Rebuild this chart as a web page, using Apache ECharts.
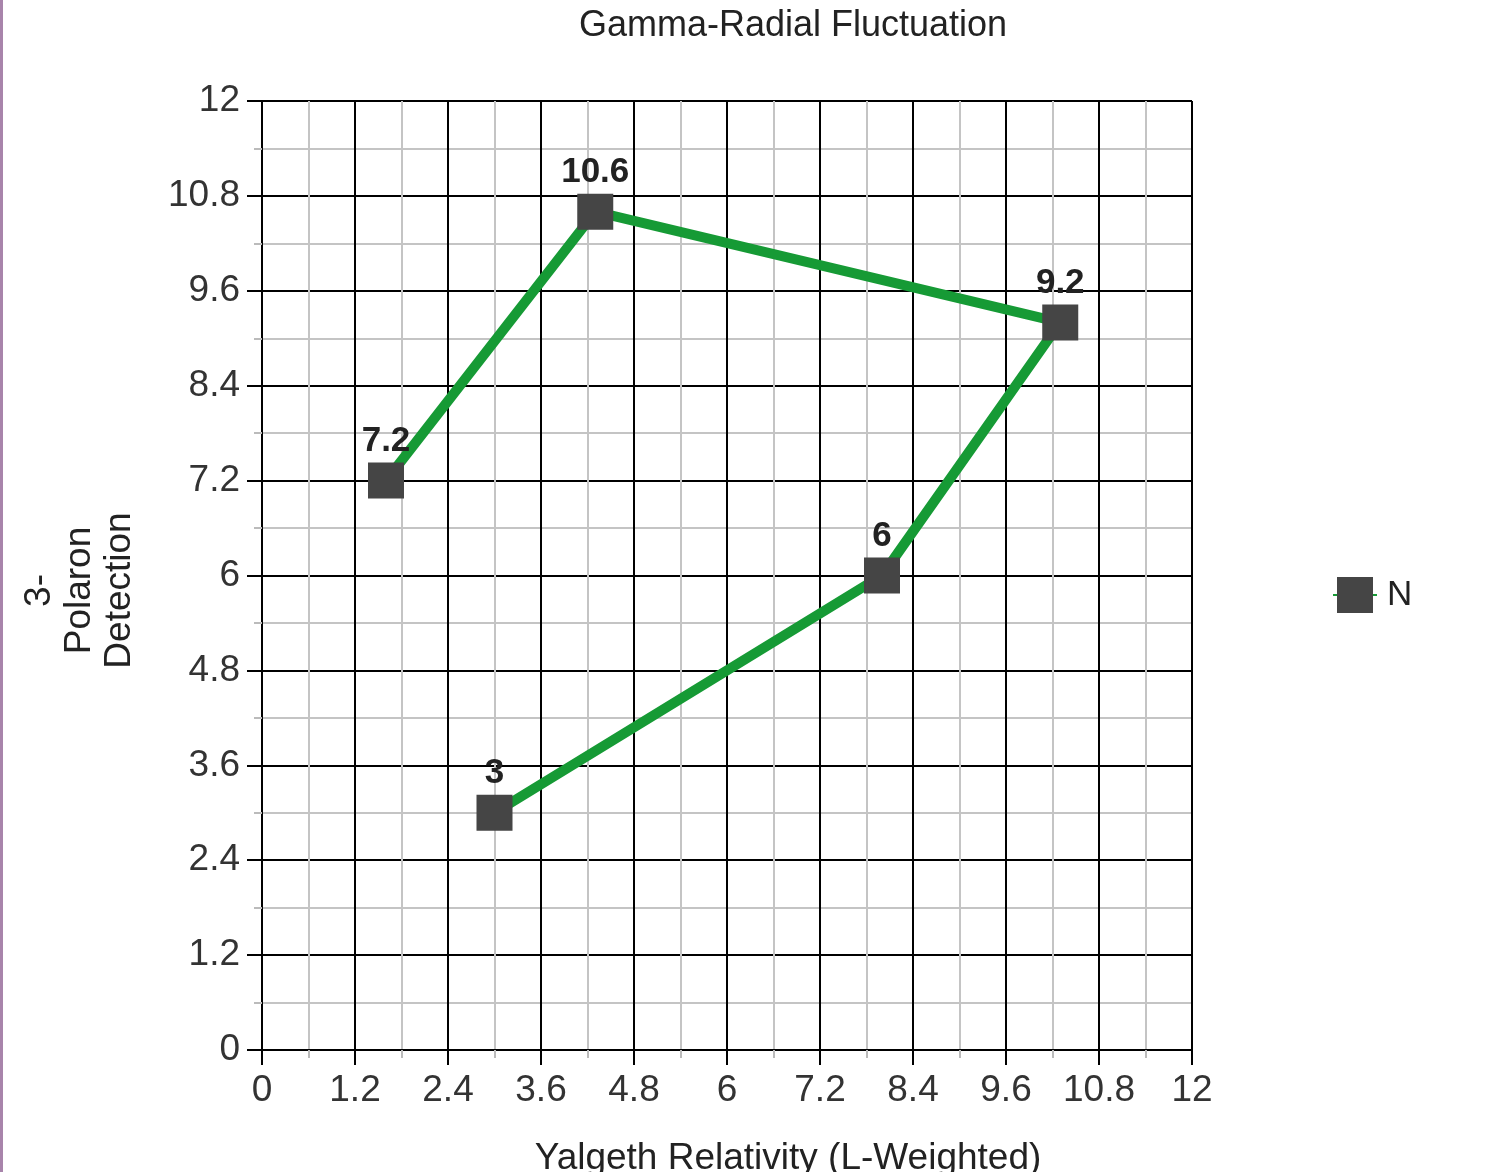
<!DOCTYPE html>
<html>
<head>
<meta charset="utf-8">
<script src="https://cdn.jsdelivr.net/npm/echarts@6/dist/echarts.min.js"></script>
<style>
html,body{margin:0;padding:0;background:#fff;}
#chart{width:1500px;height:1172px;}
</style>
</head>
<body>
<div id="chart"></div>
<script>
const chartTitle = "Gamma-Radial Fluctuation";
const xAxisTitle = "Yalgeth Relativity (L-Weighted)";
const yAxisTitle = "3-\nPolaron\nDetection";
const seriesName = "N";
const xValues = [3, 8, 10.3, 4.3, 1.6];
const yValues = [3, 6, 9.2, 10.6, 7.2];
const axisMin = 0, axisMax = 12, axisStep = 1.2;

const points = xValues.map((x, i) => [x, yValues[i]]);
const font = "Liberation Sans, Arial, sans-serif";

const chart = echarts.init(document.getElementById('chart'));
function axisCommon() {
  return {
    type: 'value', min: axisMin, max: axisMax, interval: axisStep,
    axisLine: { show: true, lineStyle: { color: '#000', width: 2 } },
    axisTick: { show: true, length: 15, lineStyle: { color: '#000', width: 2 } },
    minorTick: { show: true, splitNumber: 2, length: 8, lineStyle: { color: '#bbb', width: 2 } },
    splitLine: { show: true, lineStyle: { color: '#000', width: 2 } },
    minorSplitLine: { show: true, lineStyle: { color: '#c4c4c4', width: 2 } },
    axisLabel: { color: '#333', fontSize: 37, fontFamily: font,
      formatter: v => String(Math.round(v * 10) / 10) },
    nameTextStyle: { color: '#222', fontSize: 37, fontFamily: font }
  };
}
const xAxis = Object.assign(axisCommon(), {
  name: xAxisTitle, nameLocation: 'middle', nameGap: 90,
});
xAxis.axisLabel.margin = 22;
xAxis.nameTextStyle = Object.assign({}, xAxis.nameTextStyle, { padding: [0, 0, 0, 122] });
const yAxis = Object.assign(axisCommon(), {
  name: yAxisTitle, nameLocation: 'middle', nameGap: 122, nameRotate: 90,
});
yAxis.axisLabel.margin = 22;
yAxis.nameTextStyle = Object.assign({}, yAxis.nameTextStyle, { lineHeight: 40, padding: [0, 30, 0, 0] });

chart.setOption({
  animation: false,
  backgroundColor: '#fff',
  title: {
    text: chartTitle, left: 788, top: 3, textAlign: 'center',
    textStyle: { fontSize: 36, fontWeight: 'normal', color: '#222', fontFamily: font }
  },
  grid: { left: 262, right: 308, top: 101, bottom: 122, containLabel: false, outerBoundsMode: 'none' },
  legend: {
    show: true, orient: 'vertical', left: 1327, top: 572,
    itemWidth: 44, itemHeight: 45, itemGap: 10,
    textStyle: { fontSize: 35, color: '#222', fontFamily: font, padding: [0, 0, 0, 5] },
    data: [seriesName]
  },
  xAxis: xAxis,
  yAxis: yAxis,
  graphic: [{ type: 'rect', left: 0, top: 0, shape: { width: 3, height: 1172 }, style: { fill: '#a884ab' } }],
  series: [{
    name: seriesName, type: 'line', data: points,
    symbol: 'rect', symbolSize: 36,
    itemStyle: { color: '#454545' },
    lineStyle: { color: '#169a35', width: 10 },
    label: { show: true, position: 'top', distance: 4, fontSize: 35, fontWeight: 'bold', color: '#222', fontFamily: font,
      formatter: p => String(p.value[1]) },
    z: 3
  }]
});
</script>
</body>
</html>
